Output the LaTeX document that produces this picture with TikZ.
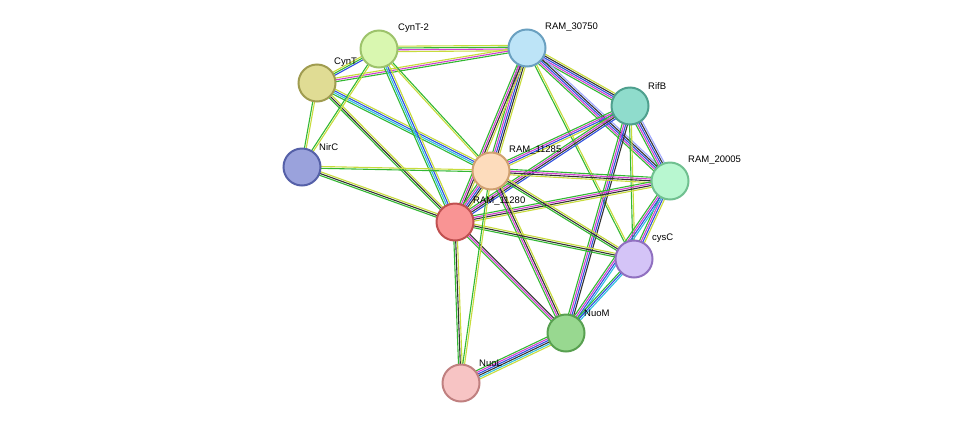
\documentclass[tikz,border=0pt]{standalone}
\usepackage{fontspec}
\setmainfont{Liberation Sans}
\usetikzlibrary{calc}
\definecolor{cG}{HTML}{33B833}\definecolor{cY}{HTML}{C8DC3C}\definecolor{cM}{HTML}{D040D0}
\definecolor{cB}{HTML}{3050E0}\definecolor{cK}{HTML}{333333}\definecolor{cC}{HTML}{30C0E0}
\definecolor{cL}{HTML}{A0A8FF}
\newcommand{\edg}[3]{%
 \foreach \c [count=\i] in {#3} {\xdef\nE{\i}}%
 \foreach \c [count=\i] in {#3} {%
  \pgfmathsetmacro\off{(\i-(\nE+1)/2)*1.8}%
  \draw[\c,line width=1.1pt] ($(#1)!\off pt!90:(#2)$) -- ($(#2)!\off pt!-90:(#1)$);}}
\tikzset{nd/.style={circle,minimum size=37pt,line width=2pt,inner sep=0pt},
 lb/.style={font=\fontsize{9.5}{11}\selectfont,anchor=south west,inner sep=1pt}}
\begin{document}
\begin{tikzpicture}[x=1pt,y=-1pt]
\useasboundingbox (0,0) rectangle (976,429);
\coordinate (c2) at (379,49);\coordinate (r30) at (527,48);\coordinate (ct) at (317,83);
\coordinate (rb) at (630,106);\coordinate (nc) at (302,167);\coordinate (r85) at (491,171);
\coordinate (r05) at (670,181);\coordinate (r80) at (455,222);\coordinate (cy) at (634,259);
\coordinate (nm) at (566,333);\coordinate (nl) at (461,383);
\edg{c2}{r30}{cY,cM,cG,cY}
\edg{ct}{r30}{cG,cM,cY}
\edg{ct}{c2}{cB,cG,cY}
\edg{ct}{nc}{cG,cY}
\edg{ct}{r85}{cG,cC,cB,cY}
\edg{ct}{r80}{cG,cK,cY}
\edg{c2}{r85}{cY,cG}
\edg{c2}{r80}{cG,cC,cB,cY}
\edg{c2}{nc}{cG,cY}
\edg{nc}{r85}{cG,cY}
\edg{nc}{r80}{cG,cK,cY}
\edg{r30}{r85}{cG,cM,cB,cK,cY}
\edg{r30}{r80}{cG,cM,cK,cY}
\edg{r30}{rb}{cG,cM,cB,cK,cY}
\edg{r30}{r05}{cG,cM,cB,cK,cL}
\edg{r30}{cy}{cG,cY}
\edg{rb}{r85}{cG,cM,cB,cY}
\edg{rb}{r80}{cG,cM,cK,cB}
\edg{rb}{r05}{cG,cM,cB,cK,cL}
\edg{rb}{cy}{cG,cY}
\edg{rb}{nm}{cG,cM,cB,cK}
\edg{r05}{r85}{cG,cM,cK,cY}
\edg{r05}{r80}{cG,cM,cK,cY}
\edg{r05}{cy}{cG,cM,cB,cY}
\edg{r05}{nm}{cG,cM,cB,cC}
\edg{r85}{r80}{cG,cM,cB,cK,cY}
\edg{r85}{cy}{cG,cK,cY}
\edg{r85}{nm}{cG,cM,cK,cY}
\edg{r80}{cy}{cG,cK,cY}
\edg{r80}{nm}{cG,cM,cK}
\edg{r80}{nl}{cG,cK,cY}
\edg{r85}{nl}{cG,cY}
\edg{cy}{nm}{cG,cB,cC}
\edg{nm}{nl}{cG,cM,cB,cK,cC,cY}
\node[nd,fill={rgb,255:red,217;green,247;blue,176},draw={rgb,255:red,157;green,195;blue,107}] (n1) at (c2) {};
\node[nd,fill={rgb,255:red,189;green,228;blue,247},draw={rgb,255:red,106;green,160;blue,192}] (n2) at (r30) {};
\node[nd,fill={rgb,255:red,224;green,220;blue,148},draw={rgb,255:red,160;green,156;blue,80}] (n3) at (ct) {};
\node[nd,fill={rgb,255:red,143;green,220;blue,204},draw={rgb,255:red,78;green,160;blue,142}] (n4) at (rb) {};
\node[nd,fill={rgb,255:red,154;green,162;blue,220},draw={rgb,255:red,85;green,96;blue,168}] (n5) at (nc) {};
\node[nd,fill={rgb,255:red,253;green,220;blue,188},draw={rgb,255:red,208;green,160;blue,112}] (n6) at (r85) {};
\node[nd,fill={rgb,255:red,184;green,247;blue,208},draw={rgb,255:red,112;green,192;blue,144}] (n7) at (r05) {};
\node[nd,fill={rgb,255:red,249;green,148;blue,148},draw={rgb,255:red,192;green,80;blue,80}] (n8) at (r80) {};
\node[nd,fill={rgb,255:red,212;green,196;blue,247},draw={rgb,255:red,144;green,112;blue,192}] (n9) at (cy) {};
\node[nd,fill={rgb,255:red,152;green,216;blue,144},draw={rgb,255:red,88;green,160;blue,80}] (n10) at (nm) {};
\node[nd,fill={rgb,255:red,247;green,196;blue,196},draw={rgb,255:red,192;green,128;blue,128}] (n11) at (nl) {};
\node[lb] (l1) at (397,34) {CynT-2};
\node[lb] (l2) at (544,33) {RAM\_30750};
\node[lb] (l3) at (333,68) {CynT};
\node[lb] (l4) at (647,91) {RifB};
\node[lb] (l5) at (318,152) {NirC};
\node[lb] (l6) at (508,156) {RAM\_11285};
\node[lb] (l7) at (687,166) {RAM\_20005};
\node[lb] (l8) at (472,207) {RAM\_11280};
\node[lb] (l9) at (651,244) {cysC};
\node[lb] (l10) at (583,318) {NuoM};
\node[lb] (l11) at (478,368) {NuoL};
\end{tikzpicture}
\end{document}
